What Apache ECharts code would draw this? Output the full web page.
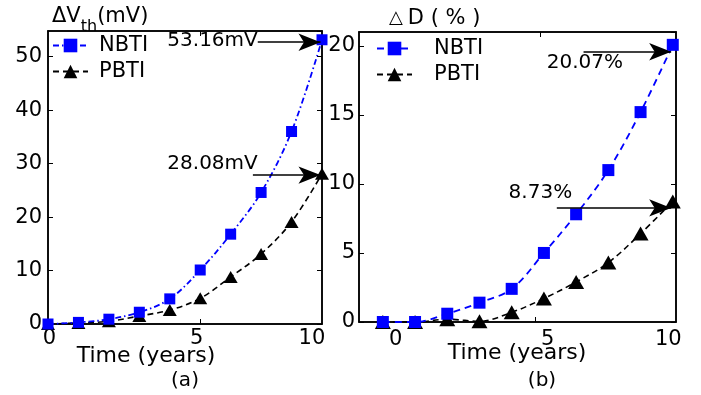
<!DOCTYPE html>
<html>
<head>
<meta charset="utf-8">
<script src="https://cdn.jsdelivr.net/npm/echarts@6/dist/echarts.min.js"></script>
<style>html,body{margin:0;padding:0;background:#fff}#c{width:701px;height:395px}</style>
</head>
<body>
<div id="c"></div>
<script>
// Sample index (10 evenly spaced samples along the time axis)
const timeIndex = [0, 1, 2, 3, 4, 5, 6, 7, 8, 9];
// (a) threshold voltage shift, mV
const nbtiVth = [0, 0.3, 0.9, 2.2, 4.7, 10.1, 16.8, 24.6, 36.0, 53.16];
const pbtiVth = [0, 0.2, 0.5, 1.5, 2.6, 4.8, 8.8, 13.1, 19.1, 28.08];
// (b) delay degradation, %
const nbtiD = [0, 0, 0.6, 1.4, 2.4, 5.0, 7.8, 11.0, 15.2, 20.07];
const pbtiD = [0, 0, 0.2, 0.05, 0.7, 1.7, 2.9, 4.3, 6.4, 8.73];
// tick labels
const xTickLabels = ['0', '5', '10'];
const seriesNames = ['NBTI', 'PBTI'];
const annotA = ['53.16mV', '28.08mV'];
const annotB = ['20.07%', '8.73%'];

const FF = 'DejaVu Sans';
const chart = echarts.init(document.getElementById('c'), null, {renderer: 'canvas'});
const pair = (ys) => timeIndex.map((t, i) => [t, ys[i]]);

const posA = [0.05, 4.88, 8.67];
const posB = [0.4, 5.12, 8.86];
const nearestLabel = (pos) => (v) => {
  let best = 0, d = Infinity;
  pos.forEach((p, i) => { if (Math.abs(p - v) < d) { d = Math.abs(p - v); best = i; } });
  return xTickLabels[best];
};

const axisLineStyle = {show: true, onZero: false, lineStyle: {color: '#000', width: 1.5}};
const tickStyle = {show: true, inside: true, length: 5, lineStyle: {color: '#000', width: 1}};
const labelText = {color: '#000', fontFamily: FF, fontSize: 21};

function arrowLine(x0, x1, y) {
  return [{coord: [x0, y], symbol: 'none'}, {coord: [x1, y], symbol: 'arrow', symbolSize: [13, 22]}];
}
function textPoint(name, x, y, align) {
  return {name: name, coord: [x, y], symbolSize: 0,
    label: {show: true, position: [0, 0], align: align, verticalAlign: 'middle',
      formatter: '{b}', color: '#000', fontFamily: FF, fontSize: 20}};
}
const plainTitle = (size) => ({fontSize: size, fontFamily: FF, fontWeight: 'normal', color: '#000'});

const option = {
  animation: false,
  backgroundColor: '#fff',
  title: [
    {text: '{a|ΔV}{s|th}{a|(mV)}', left: 47, top: 1,
      textStyle: {fontWeight: 'normal', rich: {
        a: {fontSize: 21, fontFamily: FF, fontWeight: 'normal', color: '#000', lineHeight: 26, verticalAlign: 'top'},
        s: {fontSize: 16, fontFamily: FF, fontWeight: 'normal', color: '#000', lineHeight: 26, padding: [13, 0, 0, 0], verticalAlign: 'top'}}}},
    {text: '{t|△} {a|D ( % )}', left: 384, top: 3,
      textStyle: {fontWeight: 'normal', rich: {
        t: {fontSize: 18, fontFamily: FF, fontWeight: 'normal', color: '#000'},
        a: {fontSize: 21, fontFamily: FF, fontWeight: 'normal', color: '#000'}}}},
    {text: 'Time (years)', left: 141, top: 340, textAlign: 'center', textStyle: plainTitle(22)},
    {text: 'Time (years)', left: 512, top: 337, textAlign: 'center', textStyle: plainTitle(22)},
    {text: '(a)', left: 180, top: 366, textAlign: 'center', textStyle: plainTitle(20)},
    {text: '(b)', left: 537, top: 366, textAlign: 'center', textStyle: plainTitle(20)}
  ],
  legend: [
    {orient: 'vertical', left: 52, top: 35, padding: 0, itemWidth: 35, itemHeight: 17, itemGap: 5,
      data: [{name: 'NBTI'}, {name: 'PBTI'}],
      textStyle: {color: '#000', fontFamily: FF, fontSize: 21, lineHeight: 18, padding: [0, 0, 0, 6]}},
    {orient: 'vertical', left: 376, top: 38, padding: 0, itemWidth: 35, itemHeight: 17, itemGap: 5,
      data: [{name: 'NBTI '}, {name: 'PBTI '}],
      textStyle: {color: '#000', fontFamily: FF, fontSize: 21, lineHeight: 18, padding: [0, 0, 0, 17]}}
  ],
  grid: [
    {left: 48, right: 379, top: 31, bottom: 71, show: true, borderColor: '#000', borderWidth: 1.5},
    {left: 359, right: 25, top: 32, bottom: 73, show: true, borderColor: '#000', borderWidth: 1.5}
  ],
  xAxis: [
    {gridIndex: 0, type: 'value', min: 0, max: 9, axisLine: axisLineStyle,
      axisTick: Object.assign({}, tickStyle, {customValues: [5]}),
      axisLabel: Object.assign({}, labelText, {customValues: posA, formatter: nearestLabel(posA), margin: 4}),
      splitLine: {show: false}},
    {gridIndex: 0, type: 'value', position: 'top', min: 0, max: 9, axisLine: axisLineStyle,
      axisTick: Object.assign({}, tickStyle, {customValues: [5]}), axisLabel: {show: false}, splitLine: {show: false}},
    {gridIndex: 1, type: 'value', min: -0.74, max: 9.1, axisLine: axisLineStyle,
      axisTick: Object.assign({}, tickStyle, {customValues: [4.72]}),
      axisLabel: Object.assign({}, labelText, {customValues: posB, formatter: nearestLabel(posB), margin: 7}),
      splitLine: {show: false}},
    {gridIndex: 1, type: 'value', position: 'top', min: -0.74, max: 9.1, axisLine: axisLineStyle,
      axisTick: Object.assign({}, tickStyle, {customValues: [4.9]}), axisLabel: {show: false}, splitLine: {show: false}}
  ],
  yAxis: [
    {gridIndex: 0, type: 'value', min: 0, max: 54.8, interval: 10, axisLine: axisLineStyle, axisTick: tickStyle,
      axisLabel: Object.assign({}, labelText, {margin: 6, showMaxLabel: false}), splitLine: {show: false}},
    {gridIndex: 0, type: 'value', position: 'right', min: 0, max: 54.8, interval: 10, axisLine: axisLineStyle, axisTick: tickStyle,
      axisLabel: {show: false}, splitLine: {show: false}},
    {gridIndex: 1, type: 'value', min: 0, max: 21, interval: 5, axisLine: axisLineStyle, axisTick: tickStyle,
      axisLabel: Object.assign({}, labelText, {margin: 4, showMaxLabel: false}), splitLine: {show: false}},
    {gridIndex: 1, type: 'value', position: 'right', min: 0, max: 21, interval: 5, axisLine: axisLineStyle, axisTick: tickStyle,
      axisLabel: {show: false}, splitLine: {show: false}}
  ],
  series: [
    {name: seriesNames[0], type: 'line', xAxisIndex: 0, yAxisIndex: 0, data: pair(nbtiVth), smooth: 0.35, clip: false,
      symbol: 'rect', symbolSize: 11, itemStyle: {color: '#0000ff'},
      lineStyle: {color: '#0000ff', width: 1.8, type: [6, 3, 1.5, 3]}, z: 3},
    {name: seriesNames[1], type: 'line', xAxisIndex: 0, yAxisIndex: 0, data: pair(pbtiVth), smooth: 0.35, clip: false,
      symbol: 'triangle', symbolSize: [14, 12], itemStyle: {color: '#000'},
      lineStyle: {color: '#000', width: 1.6, type: [6, 4]}, z: 2,
      markLine: {silent: true, symbol: 'none', lineStyle: {color: '#000', width: 1.5, type: 'solid'}, label: {show: false},
        data: [arrowLine(6.89, 8.95, 52.7), arrowLine(6.73, 8.95, 27.85)]},
      markPoint: {silent: true, data: [textPoint(annotA[0], 6.89, 52.9, 'right'), textPoint(annotA[1], 6.89, 30.0, 'right')]}},
    {name: seriesNames[0] + ' ', type: 'line', xAxisIndex: 2, yAxisIndex: 2, data: pair(nbtiD), smooth: 0.35, clip: false,
      symbol: 'rect', symbolSize: 12, itemStyle: {color: '#0000ff'},
      lineStyle: {color: '#0000ff', width: 1.8, type: [7, 5]}, z: 3},
    {name: seriesNames[1] + ' ', type: 'line', xAxisIndex: 2, yAxisIndex: 2, data: pair(pbtiD), smooth: 0.35, clip: false,
      symbol: 'triangle', symbolSize: [16, 14], itemStyle: {color: '#000'},
      lineStyle: {color: '#000', width: 1.6, type: [6, 4]}, z: 2,
      markLine: {silent: true, symbol: 'none', lineStyle: {color: '#000', width: 1.5, type: 'solid'}, label: {show: false},
        data: [arrowLine(6.23, 8.95, 19.57), arrowLine(5.4, 8.95, 8.26)]},
      markPoint: {silent: true, data: [textPoint(annotB[0], 6.27, 18.77, 'center'), textPoint(annotB[1], 4.89, 9.35, 'center')]}}
  ]
};
chart.setOption(option);
</script>
</body>
</html>
